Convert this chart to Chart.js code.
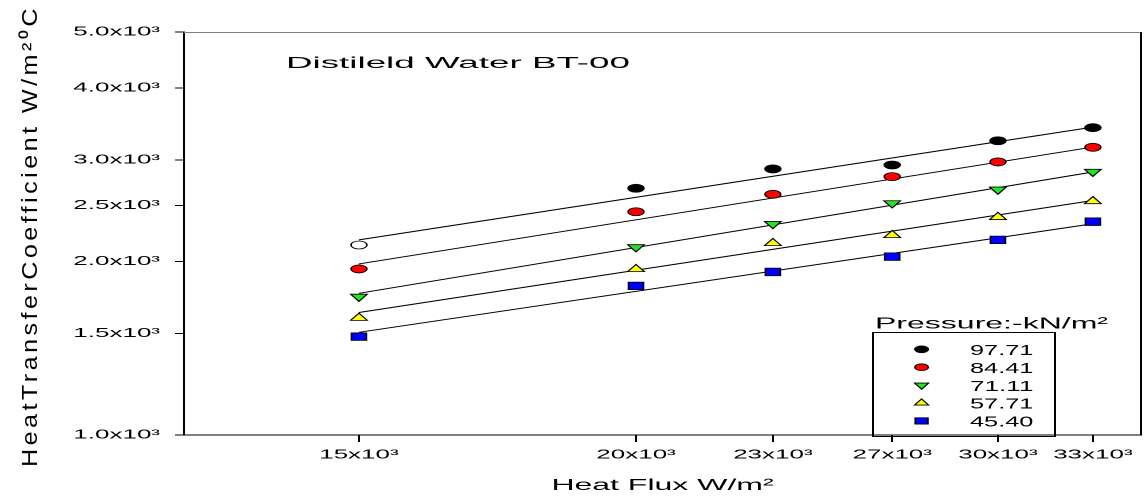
<!DOCTYPE html>
<html>
<head>
<meta charset="utf-8">
<title>Distileld Water BT-00</title>
<script src="https://cdn.jsdelivr.net/npm/chart.js@4.4.1/dist/chart.umd.min.js"></script>
<style>
    html, body { margin: 0; padding: 0; background: #fff; overflow: hidden; }
    /* plot is laid out at half width and stretched sideways */
    #wrap { width: 573px; height: 499px; transform: scaleX(2); transform-origin: 0 0; }
</style>
</head>
<body>
<div id="wrap"><canvas id="hfChart" width="573" height="499"></canvas></div>
<script>
        // Heat flux, W/m2
        const heatFlux = [15000, 20200, 23400, 26600, 29800, 33000];
        const fluxLabels = ['15x10³', '20x10³', '23x10³', '27x10³', '30x10³', '33x10³'];

        // Heat transfer coefficient, W/m2 C, one list per pressure
        const htc9771 = [2136, 2679, 2894, 2940, 3239, 3412];
        const htc8441 = [1941, 2439, 2615, 2806, 2976, 3155];
        const htc7111 = [1738, 2118, 2324, 2524, 2666, 2862];
        const htc5771 = [1596, 1939, 2151, 2221, 2387, 2543];
        const htc4540 = [1481, 1814, 1918, 2039, 2180, 2344];

        // Fitted lines: value at first and last heat flux
        const fit9771 = [2180, 3420];
        const fit8441 = [1980, 3158];
        const fit7111 = [1761, 2859];
        const fit5771 = [1631, 2551];
        const fit4540 = [1507, 2325];

        const htcTicks = [1000, 1500, 2000, 2500, 3000, 4000, 5000];
        const htcLabels = ['1.0x10³', '1.5x10³', '2.0x10³', '2.5x10³', '3.0x10³', '4.0x10³', '5.0x10³'];

        const pressures = ['97.71', '84.41', '71.11', '57.71', '45.40'];

        const FONT = '"Liberation Sans", Arial, sans-serif';
        Chart.defaults.font.family = FONT;
        Chart.defaults.color = '#000';

        const series = [
            { label: pressures[0], values: htc9771, fit: fit9771, color: '#000000', style: 'circle', rotation: 0, radius: 4, openFirst: true },
            { label: pressures[1], values: htc8441, fit: fit8441, color: '#ff0000', style: 'circle', rotation: 0, radius: 4 },
            { label: pressures[2], values: htc7111, fit: fit7111, color: '#22e622', style: 'triangle', rotation: 180, radius: 4.8 },
            { label: pressures[3], values: htc5771, fit: fit5771, color: '#ffff00', style: 'triangle', rotation: 0, radius: 4.8 },
            { label: pressures[4], values: htc4540, fit: fit4540, color: '#0000ff', style: 'rect', rotation: 0, radius: 5.3 }
        ];

        const datasets = [];
        series.forEach(s => {
            // regression line under the markers
            datasets.push({
                type: 'line',
                data: [
                    { x: heatFlux[0], y: s.fit[0] },
                    { x: heatFlux[heatFlux.length - 1], y: s.fit[1] }
                ],
                borderColor: '#000',
                borderWidth: 1,
                pointRadius: 0,
                fill: false,
                order: 2
            });
            datasets.push({
                type: 'scatter',
                label: s.label,
                data: heatFlux.map((x, i) => ({ x: x, y: s.values[i] })),
                pointStyle: s.style,
                rotation: s.rotation,
                pointRadius: s.radius,
                pointHoverRadius: s.radius,
                pointBackgroundColor: s.values.map((v, i) => (s.openFirst && i === 0) ? '#ffffff' : s.color),
                pointBorderColor: '#000',
                pointBorderWidth: 0.8,
                showLine: false,
                order: 1
            });
        });

        // text squeezed or stretched to a given width
        function fitText(ctx, text, x, y, size, width) {
            ctx.save();
            ctx.font = size + 'px ' + FONT;
            const sx = width / ctx.measureText(text).width;
            ctx.translate(x, y);
            ctx.scale(sx, 1);
            ctx.textAlign = 'left';
            ctx.textBaseline = 'alphabetic';
            ctx.fillStyle = '#000';
            ctx.fillText(text, 0, 0);
            ctx.restore();
        }

        const framePlugin = {
            id: 'frame',
            afterDraw(chart) {
                const ctx = chart.ctx;
                const a = chart.chartArea;

                // top and right edges of the frame
                ctx.save();
                ctx.lineWidth = 1;
                ctx.strokeStyle = '#808080';
                ctx.beginPath();
                ctx.moveTo(a.left, a.top + 0.5);
                ctx.lineTo(a.right, a.top + 0.5);
                ctx.stroke();
                ctx.strokeStyle = '#000';
                ctx.beginPath();
                ctx.moveTo(a.right, a.top);
                ctx.lineTo(a.right, a.bottom);
                ctx.stroke();
                ctx.restore();

                fitText(ctx, 'Distileld Water BT-00', 143, 68, 15.5, 172);

                // vertical axis title, spaced out along its length
                ctx.save();
                ctx.translate(18.5, 467);
                ctx.rotate(-Math.PI / 2);
                ctx.font = '11px ' + FONT;
                ctx.letterSpacing = '1.5px';
                const yTitle = 'HeatTransferCoefficient W/m²⁰C';
                ctx.scale(462 / ctx.measureText(yTitle).width, 1);
                ctx.fillStyle = '#000';
                ctx.fillText(yTitle, 0, 0);
                ctx.restore();

                // legend
                fitText(ctx, 'Pressure:-kN/m²', 437.5, 328.5, 16, 116.5);
                ctx.save();
                ctx.lineWidth = 1;
                ctx.strokeStyle = '#000';
                ctx.strokeRect(436.5, 332.5, 91, 104);
                ctx.restore();

                series.forEach((s, i) => {
                    const cy = 349.3 + i * 17.9;
                    ctx.save();
                    ctx.fillStyle = s.color;
                    ctx.strokeStyle = '#000';
                    ctx.lineWidth = 0.8;
                    Chart.helpers.drawPoint(ctx, {
                        pointStyle: s.style,
                        rotation: s.rotation,
                        radius: s.radius * 0.85,
                        borderWidth: 0.8
                    }, 460.8, cy);
                    ctx.restore();
                    fitText(ctx, s.label, 485, 355 + i * 17.9, 15, 31.7);
                });
            }
        };

        new Chart(document.getElementById('hfChart'), {
            type: 'scatter',
            data: { datasets: datasets },
            options: {
                responsive: false,
                devicePixelRatio: 2,
                animation: false,
                layout: { autoPadding: false, padding: { left: 0, right: 2.5, top: 32, bottom: 0 } },
                plugins: {
                    legend: { display: false },
                    tooltip: { enabled: false }
                },
                scales: {
                    x: {
                        type: 'logarithmic',
                        min: 12430,
                        max: 34750,
                        grid: { drawOnChartArea: false, drawTicks: true, tickLength: 7, color: '#000', lineWidth: 1 },
                        border: { display: true, color: '#000', width: 1 },
                        ticks: {
                            autoSkip: false,
                            maxRotation: 0,
                            padding: 5,
                            font: { size: 13 },
                            callback: (v, i) => fluxLabels[i]
                        },
                        afterBuildTicks: scale => { scale.ticks = heatFlux.map(v => ({ value: v })); },
                        afterFit: scale => {
                            scale.height = 64;
                            scale.paddingLeft = 0;
                            scale.paddingRight = 0;
                        },
                        title: {
                            display: true,
                            text: 'Heat Flux W/m²',
                            font: { size: 16 },
                            padding: { top: 0, bottom: 4 }
                        }
                    },
                    y: {
                        type: 'logarithmic',
                        min: 1000,
                        max: 5000,
                        grid: { drawOnChartArea: false, drawTicks: true, tickLength: 4.5, color: '#000', lineWidth: 1 },
                        border: { display: true, color: '#000', width: 1 },
                        ticks: {
                            autoSkip: false,
                            padding: 7.5,
                            font: { size: 13 },
                            callback: (v, i) => htcLabels[i]
                        },
                        afterBuildTicks: scale => { scale.ticks = htcTicks.map(v => ({ value: v })); },
                        afterFit: scale => {
                            scale.width = 92;
                            scale.paddingTop = 0;
                            scale.paddingBottom = 0;
                        }
                    }
                }
            },
            plugins: [framePlugin]
        });
</script>
</body>
</html>
